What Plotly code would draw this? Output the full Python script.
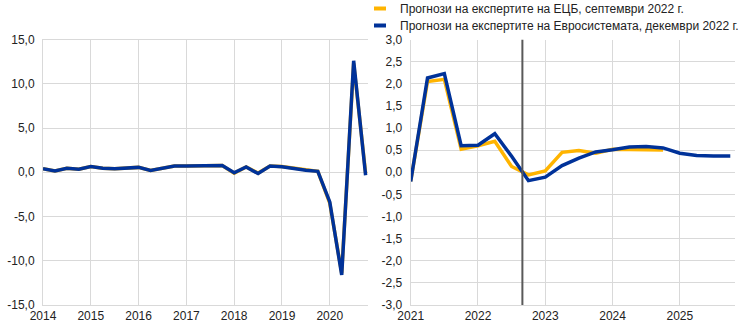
import plotly.graph_objects as go

# ---- data ----
left_x = [2014 + i / 4 for i in range(28)]  # 2014Q1 .. 2020Q4
left_sep = [0.4, 0.15, 0.45, 0.35, 0.65, 0.45, 0.4, 0.45,
            0.55, 0.2, 0.45, 0.7, 0.7, 0.7, 0.75, 0.75,
            -0.1, 0.6, -0.1, 0.7, 0.65, 0.45, 0.3, 0.1,
            -3.5, -11.4, 12.3, -0.1]
left_dec = [0.4, 0.15, 0.45, 0.35, 0.65, 0.45, 0.4, 0.45,
            0.55, 0.2, 0.45, 0.7, 0.7, 0.7, 0.75, 0.75,
            -0.07, 0.6, -0.15, 0.7, 0.62, 0.41, 0.23, 0.11,
            -3.35, -11.6, 12.6, -0.34]

right_x_sep = [2021 + i / 4 for i in range(16)]  # 2021Q1 .. 2024Q4
right_sep = [-0.2, 2.05, 2.1, 0.52, 0.6, 0.7, 0.13, -0.06,
             0.03, 0.45, 0.49, 0.43, 0.52, 0.52, 0.51, 0.5]
right_x_dec = [2021 + i / 4 for i in range(20)]  # 2021Q1 .. 2025Q4
right_dec = [-0.21, 2.13, 2.23, 0.6, 0.61, 0.87, 0.36, -0.19,
             -0.11, 0.15, 0.32, 0.46, 0.51, 0.57, 0.58, 0.55,
             0.43, 0.38, 0.37, 0.37]

cutoff = 2022.66

left_yticks = [-15, -10, -5, 0, 5, 10, 15]
left_yticktext = ["-15,0", "-10,0", "-5,0", "0,0", "5,0", "10,0", "15,0"]
right_yticks = [-3 + 0.5 * i for i in range(13)]
right_yticktext = [("%.1f" % v).replace(".", ",") for v in right_yticks]
left_xticks = [2014, 2015, 2016, 2017, 2018, 2019, 2020]
right_xticks = [2021, 2022, 2023, 2024, 2025]

names = ["Прогнози на експертите на ЕЦБ, септември 2022 г.",
         "Прогнози на експертите на Евросистемата, декември 2022 г."]

YELLOW = "#FFB400"
BLUE = "#003299"
GRID = "#d9d9d9"
W, H = 744, 330

fig = go.Figure()
lw = 3.5
fig.add_trace(go.Scatter(x=left_x, y=left_sep, mode="lines", line=dict(color=YELLOW, width=lw),
                         xaxis="x", yaxis="y", showlegend=False))
fig.add_trace(go.Scatter(x=left_x, y=left_dec, mode="lines", line=dict(color=BLUE, width=lw),
                         xaxis="x", yaxis="y", showlegend=False))
fig.add_trace(go.Scatter(x=right_x_sep, y=right_sep, mode="lines", line=dict(color=YELLOW, width=lw),
                         xaxis="x2", yaxis="y2", showlegend=False))
fig.add_trace(go.Scatter(x=right_x_dec, y=right_dec, mode="lines", line=dict(color=BLUE, width=lw),
                         xaxis="x2", yaxis="y2", showlegend=False))

font = dict(family="Liberation Sans, Arial, sans-serif", size=12, color="#222222")
ydom = [(330 - 305) / H, (330 - 39.5) / H]

axcommon = dict(showgrid=True, gridcolor=GRID, gridwidth=1, zeroline=False, automargin=False,
                showline=True, linecolor=GRID, linewidth=1, ticks="", tickfont=font)

fig.update_layout(
    width=W, height=H, margin=dict(l=0, r=0, t=0, b=0, autoexpand=False),
    paper_bgcolor="white", plot_bgcolor="white", font=font,
    xaxis=dict(domain=[43 / W, 368 / W], range=[2014, 2020.8], tickvals=left_xticks,
               ticktext=[str(v) for v in left_xticks], anchor="y", mirror=True, **axcommon),
    yaxis=dict(domain=ydom, range=[-15, 15], tickvals=left_yticks, ticktext=left_yticktext,
               anchor="x", ticklabelstandoff=5, **axcommon),
    xaxis2=dict(domain=[410.7 / W, 735 / W], range=[2021, 2025.82], tickvals=right_xticks,
                ticktext=[str(v) for v in right_xticks], anchor="y2", **axcommon),
    yaxis2=dict(domain=ydom, range=[-3, 3], tickvals=right_yticks, ticktext=right_yticktext,
                anchor="x2", ticklabelstandoff=5, **axcommon),
)

fig.add_shape(type="line", xref="x2", yref="y2", x0=cutoff, x1=cutoff, y0=-3, y1=3,
              line=dict(color="#595959", width=2))

# manual legend
for i, (nm, col) in enumerate(zip(names, [YELLOW, BLUE])):
    yc = 8.5 + i * 17
    yp = 1 - yc / H
    fig.add_shape(type="line", xref="paper", yref="paper", x0=374 / W, x1=386 / W,
                  y0=yp, y1=yp, line=dict(color=col, width=4))
    fig.add_annotation(xref="paper", yref="paper", x=398 / W, y=yp, text=nm, showarrow=False,
                       xanchor="left", yanchor="middle", font=font)

fig.write_html("out.html")
